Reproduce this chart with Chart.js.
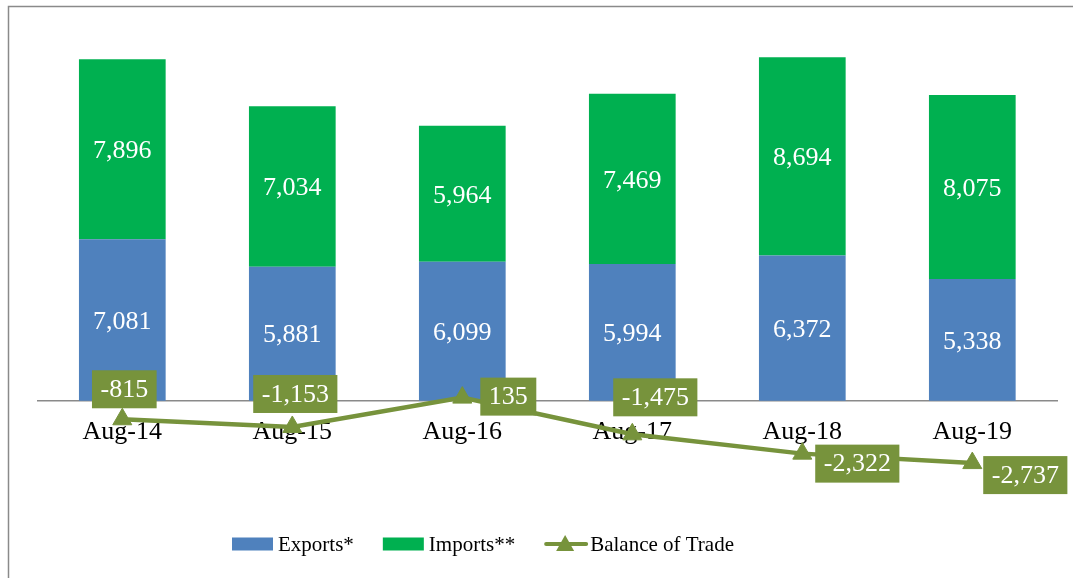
<!DOCTYPE html>
<html>
<head>
<meta charset="utf-8">
<script src="https://cdn.jsdelivr.net/npm/chart.js@4"></script>
<style>
  body { margin: 0; background: #fff; }
  #wrap { width: 1073px; height: 578px; position: relative; }
</style>
</head>
<body>
<div id="wrap"><canvas id="trade-canvas" width="1073" height="578"></canvas></div>
<script>
const months = ['Aug-14', 'Aug-15', 'Aug-16', 'Aug-17', 'Aug-18', 'Aug-19'];
const exportsData = [7081, 5881, 6099, 5994, 6372, 5338];
const importsData = [7896, 7034, 5964, 7469, 8694, 8075];
const balanceData = [-815, -1153, 135, -1475, -2322, -2737];

// where each balance label box sits relative to its point
const balanceLabelOffset = [[2, -30], [3, -33], [46, -1], [23, -37], [55, 10], [53, 12]];

const serif = "'Liberation Serif', 'Times New Roman', serif";
const green = '#77933C';

function fmt(v) {
    return v.toLocaleString('en-US');
}

const labelPlugin = {
    id: 'valueLabels',
    beforeDraw(chart) {
        const ctx = chart.ctx;
        ctx.save();
        ctx.strokeStyle = '#8a8a8a';
        ctx.lineWidth = 1.5;
        ctx.beginPath();
        ctx.moveTo(8.5, 578);
        ctx.lineTo(8.5, 6.5);
        ctx.lineTo(1073, 6.5);
        ctx.stroke();
        ctx.restore();
    },
    afterDatasetsDraw(chart) {
        const ctx = chart.ctx;
        ctx.save();
        ctx.font = '26px ' + serif;
        ctx.textAlign = 'center';
        ctx.textBaseline = 'middle';

        [0, 1].forEach(function(i) {
            chart.getDatasetMeta(i).data.forEach(function(bar, j) {
                ctx.fillStyle = '#fff';
                ctx.fillText(fmt(chart.data.datasets[i].data[j]), bar.x, (bar.y + bar.base) / 2 + 2);
            });
        });

        chart.getDatasetMeta(2).data.forEach(function(pt, j) {
            const text = fmt(balanceData[j]);
            const w = ctx.measureText(text).width + 17;
            const h = 38;
            const cx = pt.x + balanceLabelOffset[j][0];
            const cy = pt.y + balanceLabelOffset[j][1];
            ctx.fillStyle = green;
            ctx.fillRect(cx - w / 2, cy - h / 2, w, h);
            ctx.fillStyle = '#fff';
            ctx.fillText(text, cx, cy + 1);
        });
        ctx.restore();
    },
    afterDraw(chart) {
        // legend
        const ctx = chart.ctx;
        ctx.save();
        ctx.font = '21px ' + serif;
        ctx.textBaseline = 'middle';
        ctx.textAlign = 'left';
        const items = [
            { text: 'Exports*', color: '#4F81BD', line: false },
            { text: 'Imports**', color: '#00B050', line: false },
            { text: 'Balance of Trade', color: green, line: true }
        ];
        const symW = 42, gap = 4, itemGap = 29;
        let x = 232;
        const y = 544;
        items.forEach(function(it) {
            const w = ctx.measureText(it.text).width;
            if (it.line) {
                ctx.strokeStyle = it.color;
                ctx.lineWidth = 4;
                ctx.lineCap = 'round';
                ctx.beginPath();
                ctx.moveTo(x + 2, y);
                ctx.lineTo(x + symW, y);
                ctx.stroke();
                ctx.fillStyle = it.color;
                ctx.beginPath();
                ctx.moveTo(x + symW / 2, y - 9);
                ctx.lineTo(x + symW / 2 + 9, y + 7);
                ctx.lineTo(x + symW / 2 - 9, y + 7);
                ctx.closePath();
                ctx.fill();
            } else {
                ctx.fillStyle = it.color;
                ctx.fillRect(x, y - 6.5, symW - 1, 13);
            }
            ctx.fillStyle = '#000';
            ctx.fillText(it.text, x + symW + gap, y + 1);
            x += symW + gap + w + itemGap;
        });
        ctx.restore();
    }
};

function setupTradeChart() {
    const ctx = document.getElementById('trade-canvas').getContext('2d');
    new Chart(ctx, {
        type: 'bar',
        data: {
            labels: months,
            datasets: [{
                label: 'Exports*',
                data: exportsData,
                backgroundColor: '#4F81BD',
                stack: 'trade',
                order: 1
            }, {
                label: 'Imports**',
                data: importsData,
                backgroundColor: '#00B050',
                stack: 'trade',
                order: 1
            }, {
                type: 'line',
                label: 'Balance of Trade',
                data: balanceData,
                stack: 'balance',
                borderColor: green,
                backgroundColor: green,
                borderWidth: 4.5,
                pointStyle: 'triangle',
                pointRadius: 11,
                pointBorderWidth: 1,
                tension: 0,
                order: 0
            }]
        },
        options: {
            responsive: false,
            animation: false,
            layout: {
                padding: { left: 37.3, right: 15.7, top: 20, bottom: 68 }
            },
            datasets: {
                bar: { barPercentage: 0.51, categoryPercentage: 1 }
            },
            plugins: {
                legend: { display: false },
                tooltip: { enabled: false }
            },
            scales: {
                x: {
                    position: { y: 0 },
                    stacked: true,
                    grid: { display: false, drawTicks: false },
                    border: { display: true, color: '#8a8a8a', width: 1.5 },
                    ticks: {
                        color: '#000',
                        padding: 16,
                        font: { family: serif, size: 26 }
                    }
                },
                y: {
                    display: false,
                    stacked: true,
                    min: -4795,
                    max: 16701
                }
            }
        },
        plugins: [labelPlugin]
    });
}

setupTradeChart();
</script>
</body>
</html>
